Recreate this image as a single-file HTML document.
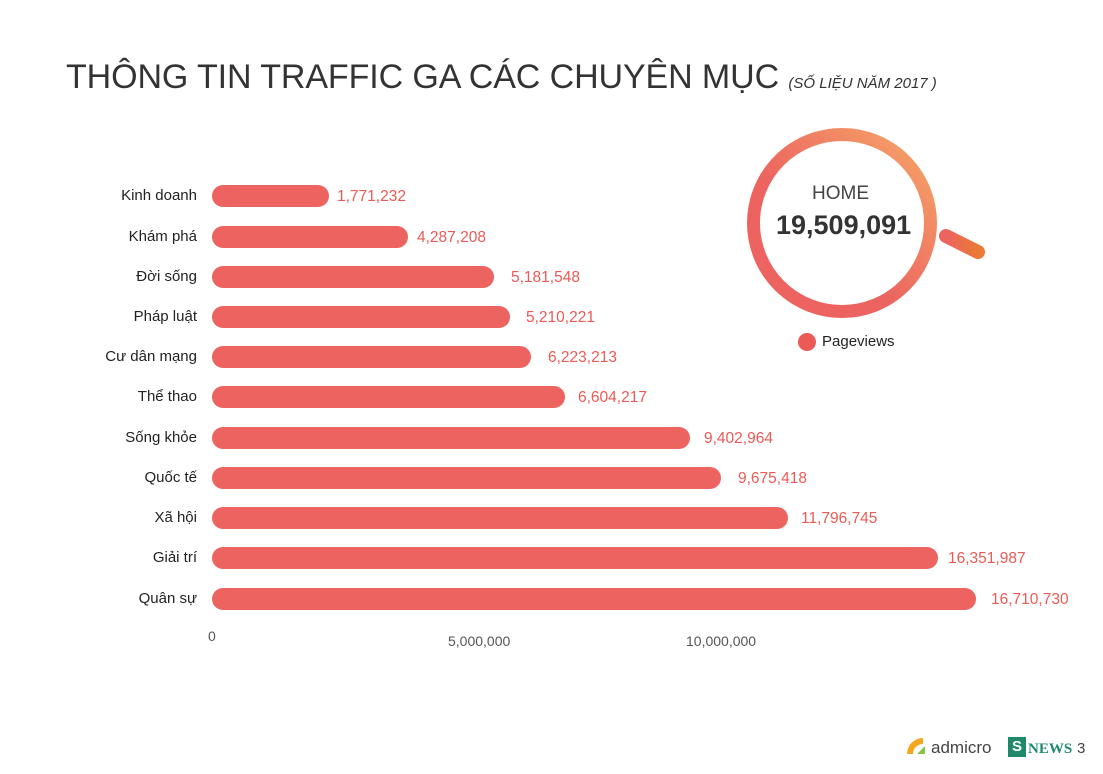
<!DOCTYPE html>
<html><head><meta charset="utf-8"><style>
body{margin:0;width:1103px;height:774px;background:#fff;position:relative;overflow:hidden;font-family:"Liberation Sans",sans-serif}
.t{position:absolute;white-space:nowrap}
.bar{position:absolute;left:212px;height:22px;background:#ec6360;border-radius:11px}
.cat{position:absolute;right:906px;font-size:15px;color:#222;white-space:nowrap}
.val{position:absolute;font-size:15.5px;color:#ec5a55;white-space:nowrap}
</style></head><body>
<div class="t" style="left:66px;top:58px;font-size:34px;color:#333;letter-spacing:-0.1px">THÔNG TIN TRAFFIC GA CÁC CHUYÊN MỤC <span style="font-size:15px;font-style:italic;letter-spacing:0">(SỐ LIỆU NĂM 2017 )</span></div>

<div class="bar" style="top:185px;width:117px"></div><div class="cat" style="top:187px">Kinh doanh</div><div class="val" style="left:337px;top:188px">1,771,232</div>
<div class="bar" style="top:226px;width:196px"></div><div class="cat" style="top:228px">Khám phá</div><div class="val" style="left:417px;top:229px">4,287,208</div>
<div class="bar" style="top:266px;width:282px"></div><div class="cat" style="top:268px">Đời sống</div><div class="val" style="left:511px;top:269px">5,181,548</div>
<div class="bar" style="top:306px;width:298px"></div><div class="cat" style="top:308px">Pháp luật</div><div class="val" style="left:526px;top:309px">5,210,221</div>
<div class="bar" style="top:346px;width:319px"></div><div class="cat" style="top:348px">Cư dân mạng</div><div class="val" style="left:548px;top:349px">6,223,213</div>
<div class="bar" style="top:386px;width:353px"></div><div class="cat" style="top:388px">Thể thao</div><div class="val" style="left:578px;top:389px">6,604,217</div>
<div class="bar" style="top:427px;width:478px"></div><div class="cat" style="top:429px">Sống khỏe</div><div class="val" style="left:704px;top:430px">9,402,964</div>
<div class="bar" style="top:467px;width:509px"></div><div class="cat" style="top:469px">Quốc tế</div><div class="val" style="left:738px;top:470px">9,675,418</div>
<div class="bar" style="top:507px;width:576px"></div><div class="cat" style="top:509px">Xã hội</div><div class="val" style="left:801px;top:510px">11,796,745</div>
<div class="bar" style="top:547px;width:726px"></div><div class="cat" style="top:549px">Giải trí</div><div class="val" style="left:948px;top:550px">16,351,987</div>
<div class="bar" style="top:588px;width:764px"></div><div class="cat" style="top:590px">Quân sự</div><div class="val" style="left:991px;top:591px">16,710,730</div>

<div class="t" style="left:208px;top:628px;font-size:14px;color:#555">0</div>
<div class="t" style="left:448px;top:633px;font-size:14px;color:#555">5,000,000</div>
<div class="t" style="left:686px;top:633px;font-size:14px;color:#555">10,000,000</div>

<svg style="position:absolute;left:0;top:0" width="1103" height="774">
<defs><linearGradient id="g" x1="0" y1="1" x2="1" y2="0"><stop offset="0.4" stop-color="#ec6360"/><stop offset="1" stop-color="#f6a868"/></linearGradient>
<linearGradient id="h" x1="0" x2="1"><stop offset="0" stop-color="#ec6360"/><stop offset="1" stop-color="#ea7a35"/></linearGradient></defs>
<circle cx="842" cy="223" r="88.5" fill="none" stroke="url(#g)" stroke-width="13"/>
<line x1="946" y1="236" x2="978" y2="252" stroke="url(#h)" stroke-width="14" stroke-linecap="round"/>
<circle cx="807" cy="342" r="9" fill="#ec5a55"/>
</svg>
<div class="t" style="left:812px;top:183px;font-size:19px;color:#444">HOME</div>
<div class="t" style="left:776px;top:210px;font-size:27px;font-weight:bold;color:#333">19,509,091</div>
<div class="t" style="left:822px;top:333px;font-size:15px;color:#222">Pageviews</div>

<svg style="position:absolute;left:905px;top:736px" width="24" height="20"><path d="M2 18 A16 16 0 0 1 18 2 L18 8 A10 10 0 0 0 8 18Z" fill="#f5a623"/><path d="M12 18 L20 10 L20 18Z" fill="#8bc34a"/></svg>
<div class="t" style="left:931px;top:738px;font-size:17px;color:#444">admicro</div>
<div class="t" style="left:1008px;top:737px;width:18px;height:20px;background:#1e8a6a;color:#fff;font-weight:bold;font-size:15px;text-align:center;line-height:20px">S</div>
<div class="t" style="left:1028px;top:741px;font-size:15px;font-weight:bold;color:#1e8a6a;font-family:'Liberation Serif',serif">NEWS</div>
<div class="t" style="left:1077px;top:740px;font-size:15px;color:#444">3</div>
</body></html>
